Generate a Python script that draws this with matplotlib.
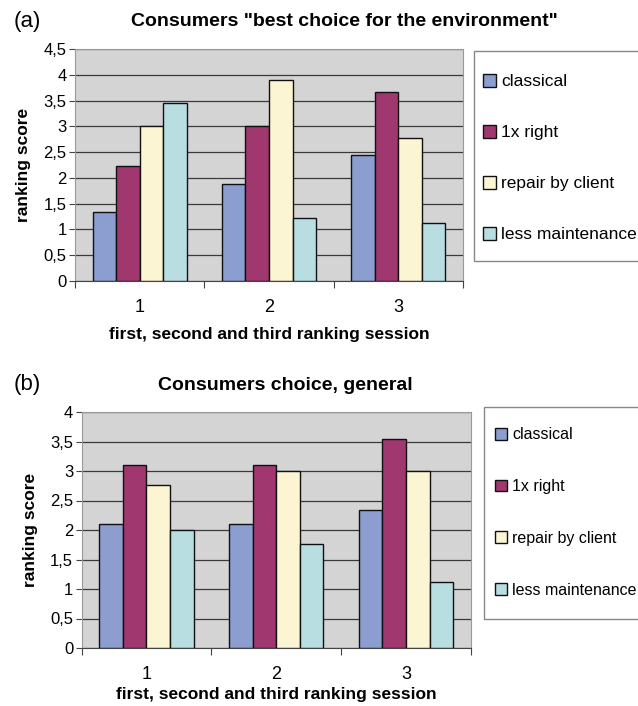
import numpy as np
import matplotlib.pyplot as plt
from matplotlib.patches import Rectangle
from matplotlib.ticker import FuncFormatter

plt.rcParams['font.family'] = ['Liberation Sans', 'DejaVu Sans']

sessions = ['1', '2', '3']
series = ['classical', '1x right', 'repair by client', 'less maintenance']
colors = ['#8c9dd0', '#a0376e', '#fbf5d3', '#b8dee2']

# (a) best choice for the environment
env_classical = [1.33, 1.88, 2.44]
env_right = [2.23, 3.0, 3.67]
env_repair = [3.0, 3.9, 2.78]
env_less = [3.45, 1.23, 1.12]

# (b) general choice
gen_classical = [2.11, 2.11, 2.34]
gen_right = [3.11, 3.11, 3.55]
gen_repair = [2.77, 3.0, 3.0]
gen_less = [2.0, 1.77, 1.12]

W, H = 638, 706
fig = plt.figure(figsize=(W / 100, H / 100), dpi=100)


def comma(v, pos):
    s = ('%g' % v)
    return s.replace('.', ',')


def panel(rect, data, ymax, title, tag, title_x, title_y, tag_y, ylab_x,
          legbox, legpos, legsize, legspace, xpad):
    ax = fig.add_axes(rect)
    ax.set_facecolor('#d4d4d4')
    x = np.arange(len(sessions))
    w = 1 / 5.5
    for i, vals in enumerate(data):
        ax.bar(x + (i - 1.5) * w, vals, w, color=colors[i], edgecolor='#111111',
               linewidth=1.0, label=series[i], zorder=3)
    ax.set_xlim(-0.5, 2.5)
    ax.set_ylim(0, ymax)
    ax.set_yticks(np.arange(0, ymax + 0.01, 0.5))
    ax.yaxis.set_major_formatter(FuncFormatter(comma))
    ax.yaxis.grid(True, color='#3a3a3a', linewidth=0.9, zorder=1)
    ax.set_axisbelow(True)
    ax.set_xticks([-0.5, 0.5, 1.5, 2.5])
    ax.set_xticklabels([])
    ax.set_xticks(x, minor=True)
    ax.set_xticklabels(sessions, minor=True, fontsize=13)
    ax.tick_params(axis='x', which='major', length=5, color='#444444')
    ax.tick_params(axis='x', which='minor', length=0, pad=13)
    ax.tick_params(axis='y', length=4, color='#444444', labelsize=12, pad=2)
    for s in ['top', 'right', 'left']:
        ax.spines[s].set_color('#9a9a9a')
    ax.spines['bottom'].set_color('#444444')
    ax.set_xlabel('first, second and third ranking session', fontsize=12.5,
                  fontweight='bold', labelpad=xpad)
    fig.text(ylab_x / W, (rect[1] + rect[3] / 2), 'ranking score', rotation=90,
             fontsize=12.5, fontweight='bold', ha='center', va='center')
    fig.text(title_x / W, 1 - title_y / H, title, fontsize=14, fontweight='bold',
             ha='center', va='center')
    fig.text(14 / W, 1 - tag_y / H, tag, fontsize=16, ha='left', va='center')
    # legend box runs off the right edge
    x0, y0, y1 = legbox
    fig.add_artist(Rectangle((x0 / W, 1 - y1 / H), (W + 20 - x0) / W, (y1 - y0) / H,
                             transform=fig.transFigure, facecolor='white',
                             edgecolor='#888888', linewidth=1.0, clip_on=False))
    handles, labels = ax.get_legend_handles_labels()
    fig.legend(handles, labels, loc='upper left',
               bbox_to_anchor=(legpos[0] / W, 1 - legpos[1] / H),
               frameon=False, fontsize=legsize, handlelength=0.75, handleheight=0.75,
               handletextpad=0.3, labelspacing=legspace, borderaxespad=0)
    return ax


panel([75 / W, 1 - 281 / H, 388 / W, 232 / H],
      [env_classical, env_right, env_repair, env_less], 4.5,
      'Consumers "best choice for the environment"', '(a)', 344, 22, 21, 24,
      (474, 51, 261), (476, 67), 12.5, 2.05, 8)

panel([81.5 / W, 1 - 648 / H, 389.5 / W, 236 / H],
      [gen_classical, gen_right, gen_repair, gen_less], 4.0,
      'Consumers choice, general', '(b)', 285, 385, 384, 30,
      (483.5, 407, 619), (489, 421), 11.5, 2.3, 3)

fig.savefig('out.png', dpi=100)
